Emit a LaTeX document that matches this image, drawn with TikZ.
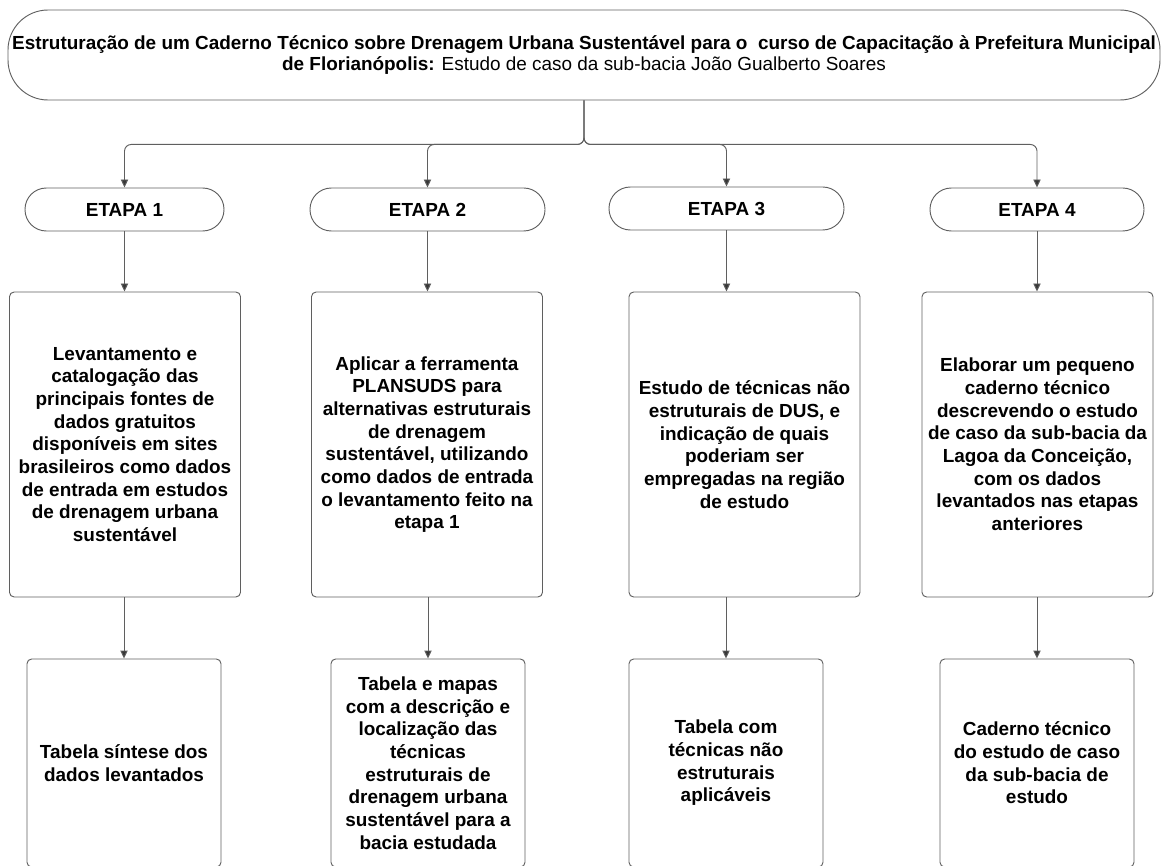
\documentclass[tikz,border=0pt]{standalone}
\usepackage{fontspec}
\setmainfont{Liberation Sans}
\usetikzlibrary{arrows.meta}
\definecolor{linegray}{RGB}{95,95,95}
\definecolor{tipgray}{RGB}{55,55,55}
\begin{document}
\begin{tikzpicture}[x=0.75pt, y=-0.75pt,
  caixa/.style={draw=linegray, line width=0.7pt, align=center, inner sep=0pt,
    font=\bfseries\fontsize{14.2}{17}\selectfont},
  etapa/.style={caixa, rounded corners=16pt, minimum height=32.25pt},
  bloco/.style={caixa, rounded corners=3.5pt, minimum width=173.25pt, minimum height=228.75pt},
  produto/.style={caixa, rounded corners=3.5pt, minimum width=145.5pt, minimum height=156pt},
  seta/.style={draw=linegray, line width=0.7pt, -{Triangle[width=5.5pt, length=6pt, fill=tipgray]}}]
  % 边界
  \useasboundingbox (0,0) rectangle (1161,866);
  \clip (0,0) rectangle (1161,866);
  % 标题
  \node[caixa, rounded corners=30pt, minimum width=864pt, minimum height=67.5pt,
    font=\fontsize{14.2}{16.3}\selectfont] (titulo) at (584,55)
    {\textbf{Estruturação de um Caderno Técnico sobre Drenagem Urbana Sustentável para o~ curso de Capacitação à Prefeitura Municipal}\\
     \textbf{de Florianópolis:} Estudo de caso da sub-bacia João Gualberto Soares};
  % 四个阶段
  \node[etapa, minimum width=149.25pt] (e1) at (124.5,209.5) {ETAPA 1};
  \node[etapa, minimum width=176.25pt] (e2) at (427.5,209.5) {ETAPA 2};
  \node[etapa, minimum width=176.25pt] (e3) at (726.5,208.5) {ETAPA 3};
  \node[etapa, minimum width=160.5pt] (e4) at (1037,209.5) {ETAPA 4};
  % 标题到阶段
  \draw[seta, rounded corners=5pt] (titulo.south) -- ++(0,44) -| (e1.north);
  \draw[seta, rounded corners=5pt] (titulo.south) -- ++(0,44) -| (e2.north);
  \draw[seta, rounded corners=5pt] (titulo.south) -- ++(0,44) -| (e3.north);
  \draw[seta, rounded corners=5pt] (titulo.south) -- ++(0,44) -| (e4.north);
  % 各阶段内容
  \node[bloco] (m1) at (125,444.5) {Levantamento e\\ catalogação das\\ principais fontes de\\ dados gratuitos\\ disponíveis em sites\\ brasileiros como dados\\ de entrada em estudos\\ de drenagem urbana\\ sustentável};
  \node[bloco] (m2) at (427,444.5) {Aplicar a ferramenta\\ PLANSUDS para\\ alternativas estruturais\\ de drenagem\\ sustentável, utilizando\\ como dados de entrada\\ o levantamento feito na\\ etapa 1};
  \node[bloco] (m3) at (744.5,444.5) {Estudo de técnicas não\\ estruturais de DUS, e\\ indicação de quais\\ poderiam ser\\ empregadas na região\\ de estudo};
  \node[bloco] (m4) at (1037.5,444.5) {Elaborar um pequeno\\ caderno técnico\\ descrevendo o estudo\\ de caso da sub-bacia da\\ Lagoa da Conceição,\\ com os dados\\ levantados nas etapas\\ anteriores};
  \draw[seta] (e1.south) -- (e1.south |- m1.north);
  \draw[seta] (e2.south) -- (e2.south |- m2.north);
  \draw[seta] (e3.south) -- (e3.south |- m3.north);
  \draw[seta] (e4.south) -- (e4.south |- m4.north);
  % 成果
  \node[produto] (p1) at (124,763) {Tabela síntese dos\\ dados levantados};
  \node[produto] (p2) at (428,763) {Tabela e mapas\\ com a descrição e\\ localização das\\ técnicas\\ estruturais de\\ drenagem urbana\\ sustentável para a\\ bacia estudada};
  \node[produto] (p3) at (726,763) {Tabela com\\ técnicas não\\ estruturais\\ aplicáveis};
  \node[produto] (p4) at (1037,763) {Caderno técnico\\ do estudo de caso\\ da sub-bacia de\\ estudo};
  \draw[seta] (p1.north |- m1.south) -- (p1.north);
  \draw[seta] (p2.north |- m2.south) -- (p2.north);
  \draw[seta] (p3.north |- m3.south) -- (p3.north);
  \draw[seta] (p4.north |- m4.south) -- (p4.north);
\end{tikzpicture}
\end{document}
